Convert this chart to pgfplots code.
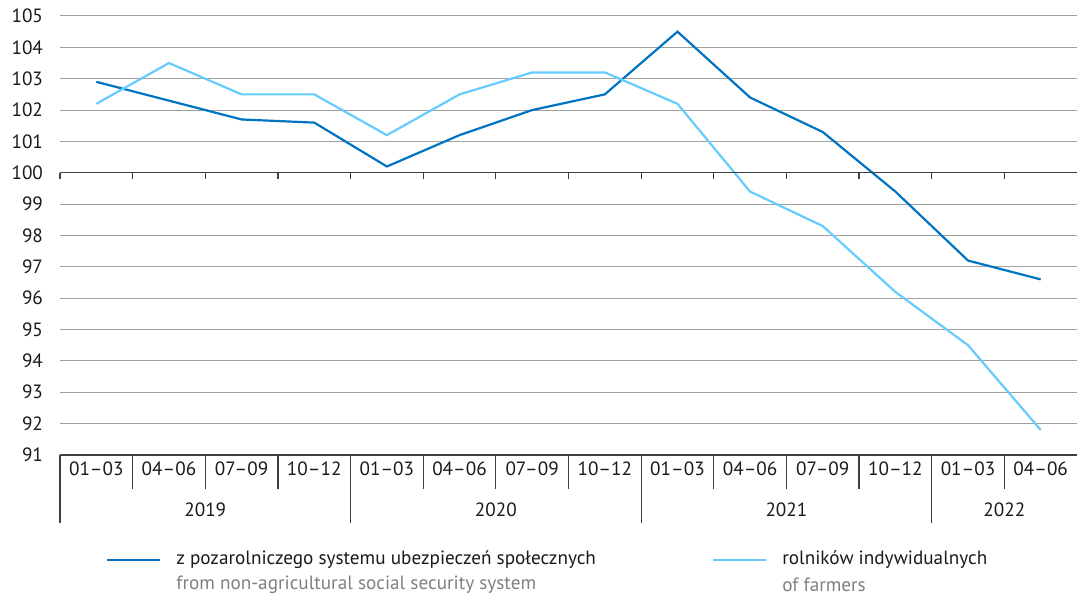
\documentclass[border=0pt]{standalone}
\usepackage{pgfplots}
\pgfplotsset{compat=1.18}
\usepackage{fontspec}
\setmainfont{PT Sans}
\definecolor{dblue}{HTML}{0073C2}
\definecolor{lblue}{HTML}{66CCFF}
\definecolor{gridc}{HTML}{A0A0A0}
\definecolor{axc}{HTML}{404040}
\definecolor{txt}{HTML}{1A1A1A}
\definecolor{subtxt}{HTML}{808080}
\begin{document}
\begin{tikzpicture}[font=\fontsize{9.6}{11.5}\selectfont\color{txt}]
\begin{axis}[
  scale only axis, width=508.5pt, height=219.5pt,
  at={(0pt,0pt)}, anchor=south west,
  xmin=-0.5, xmax=13.5, ymin=91, ymax=105,
  axis line style={draw=none},
  ytick={91,...,105},
  xtick={0,...,13},
  xticklabels={01--03,04--06,07--09,10--12,01--03,04--06,07--09,10--12,01--03,04--06,07--09,10--12,01--03,04--06},
  xticklabel style={anchor=center, yshift=-7pt},
  major tick length=0pt,
  ymajorgrids, grid style={gridc, line width=0.5pt},
  yticklabel style={anchor=east, xshift=-5pt},
  /pgf/number format/assume math mode=true,
  tick label style={font=\fontsize{9.6}{11.5}\selectfont, text=txt},
  clip=false,
]
\addplot[dblue, line width=1.1pt] coordinates {
 (0,102.9) (1,102.3) (2,101.7) (3,101.6) (4,100.2) (5,101.2) (6,102.0) (7,102.5)
 (8,104.5) (9,102.4) (10,101.3) (11,99.4) (12,97.2) (13,96.6)};
\addplot[lblue, line width=1.1pt] coordinates {
 (0,102.2) (1,103.5) (2,102.5) (3,102.5) (4,101.2) (5,102.5) (6,103.2) (7,103.2)
 (8,102.2) (9,99.4) (10,98.3) (11,96.2) (12,94.5) (13,91.8)};
\draw[axc, line width=0.6pt] (axis cs:-0.5,100) -- (axis cs:13.5,100);
\pgfplotsinvokeforeach{-0.5,0.5,1.5,2.5,3.5,4.5,5.5,6.5,7.5,8.5,9.5,10.5,11.5,12.5}{
  \draw[axc, line width=0.6pt] (axis cs:#1,100) -- ++(0pt,-3pt);
}
\draw[axc, line width=0.6pt] (axis cs:-0.5,91) -- (axis cs:13.5,91);
\pgfplotsinvokeforeach{0.5,1.5,2.5,4.5,5.5,6.5,8.5,9.5,10.5,12.5}{
  \draw[axc, line width=0.6pt] (axis cs:#1,91) -- ++(0pt,-17pt);
}
\pgfplotsinvokeforeach{-0.5,3.5,7.5,11.5}{
  \draw[axc, line width=0.6pt] (axis cs:#1,91) -- ++(0pt,-34pt);
}
\node at ([yshift=-27.5pt]axis cs:1.5,91) {2019};
\node at ([yshift=-27.5pt]axis cs:5.5,91) {2020};
\node at ([yshift=-27.5pt]axis cs:9.5,91) {2021};
\node at ([yshift=-27.5pt]axis cs:12.5,91) {2022};
\end{axis}
\draw[dblue, line width=1.1pt] (23.5pt,-52.5pt) -- (50pt,-52.5pt);
\node[anchor=west, inner sep=0pt] at (58pt,-52.5pt) {z pozarolniczego systemu ubezpieczeń społecznych};
\node[anchor=west, inner sep=0pt, text=subtxt] at (58pt,-65pt) {from non-agricultural social security system};
\draw[lblue, line width=1.1pt] (326.5pt,-52.5pt) -- (353pt,-52.5pt);
\node[anchor=west, inner sep=0pt] at (361pt,-52.5pt) {rolników indywidualnych};
\node[anchor=west, inner sep=0pt, text=subtxt] at (361pt,-65pt) {of farmers};
\pgfresetboundingbox
\path (-30pt,-71pt) rectangle (508.5pt,227.5pt);
\end{tikzpicture}
\end{document}
